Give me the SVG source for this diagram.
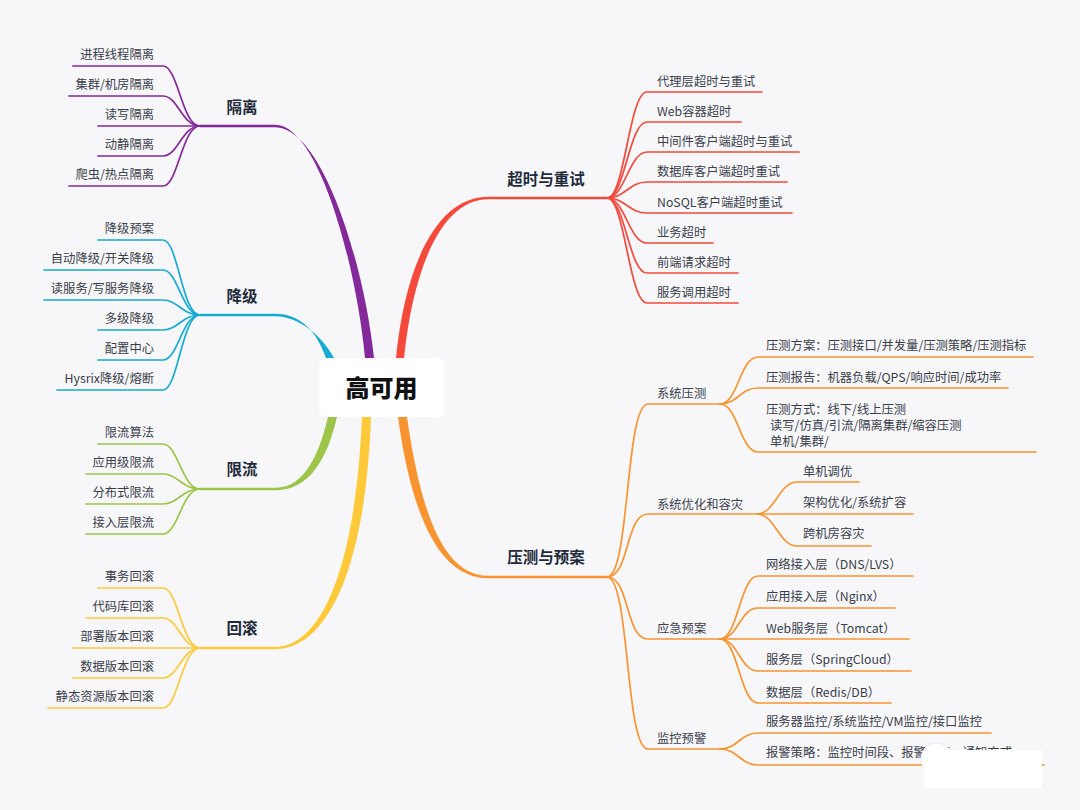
<svg xmlns="http://www.w3.org/2000/svg" width="1080" height="810" viewBox="0 0 1080 810">
<style>
.leaf{font-family:"Noto Sans CJK SC","Noto Sans",sans-serif;font-size:12.3px;fill:#3a3e4a}
.title{font-family:"Noto Sans CJK SC","Noto Sans",sans-serif;font-size:15.5px;font-weight:700;fill:#1e2a3a}
.end{text-anchor:end}
.mid{text-anchor:middle}
.ln{fill:none;stroke-width:1.7;stroke-linecap:round}
.hz{fill:none;stroke-width:2.5}
.p{stroke:#84299a}.c{stroke:#17abd3}.g{stroke:#9cc54a}.y{stroke:#ffc93a}.r{stroke:#f4493b}.o{stroke:#f8942f}
</style>
<rect width="1080" height="810" fill="#f7f7fa"/>
<g id="connectors">
<!-- main tapered branches -->
<path d="M365,358 C356,262 318,124.8 275,124.8 L275,127.2 C322,127.2 364,262 374,358 Z" fill="#84299a"/>
<path d="M326,358 C317,333 302,313.8 275,313.8 L275,316.2 C298,316.2 322,335 334,358 Z" fill="#17abd3"/>
<path d="M328,417 C316,468 298,487.8 275,487.8 L275,490.2 C302,490.2 324,472 337,417 Z" fill="#9cc54a"/>
<path d="M362,417 C355,578 318,646.8 275,646.8 L275,649.2 C322,649.2 365,582 371,417 Z" fill="#ffc93a"/>
<path d="M396,358 C406,258 440,196.8 488,196.8 L488,199.2 C444,199.2 414,262 404,358 Z" fill="#f4493b"/>
<path d="M398,417 C411,512 438,578.2 488,578.2 L488,575.8 C442,575.8 420,508 407,417 Z" fill="#f8942f"/>
<path class="hz p" d="M275,126 H200"/>
<path class="hz c" d="M275,315 H200"/>
<path class="hz g" d="M275,489 H200"/>
<path class="hz y" d="M275,648 H200"/>
<path class="hz r" d="M488,198 H607"/>
<path class="hz o" d="M488,577 H607"/>
<!-- 隔离 leaves -->
<path class="ln p" d="M73,66 H163 C178,66 182,126 200,126"/>
<path class="ln p" d="M69,96 H163 C178,96 182,126 200,126"/>
<path class="ln p" d="M98,126 H200"/>
<path class="ln p" d="M98,156 H163 C178,156 182,126 200,126"/>
<path class="ln p" d="M69,186 H163 C178,186 182,126 200,126"/>
<!-- 降级 leaves -->
<path class="ln c" d="M98,240 H163 C178,240 182,315 200,315"/>
<path class="ln c" d="M44,270 H163 C178,270 182,315 200,315"/>
<path class="ln c" d="M44,300 H163 C178,300 182,315 200,315"/>
<path class="ln c" d="M98,330 H163 C178,330 182,315 200,315"/>
<path class="ln c" d="M98,360 H163 C178,360 182,315 200,315"/>
<path class="ln c" d="M57,390 H163 C178,390 182,315 200,315"/>
<!-- 限流 leaves -->
<path class="ln g" d="M98,444 H163 C178,444 182,489 200,489"/>
<path class="ln g" d="M86,474 H163 C178,474 182,489 200,489"/>
<path class="ln g" d="M86,504 H163 C178,504 182,489 200,489"/>
<path class="ln g" d="M86,534 H163 C178,534 182,489 200,489"/>
<!-- 回滚 leaves -->
<path class="ln y" d="M98,588 H163 C178,588 182,648 200,648"/>
<path class="ln y" d="M86,618 H163 C178,618 182,648 200,648"/>
<path class="ln y" d="M73,648 H200"/>
<path class="ln y" d="M73,678 H163 C178,678 182,648 200,648"/>
<path class="ln y" d="M48,708 H163 C178,708 182,648 200,648"/>
<!-- 超时与重试 leaves -->
<path class="ln r" d="M607,198 C625,198 629,92 647,92 H762"/>
<path class="ln r" d="M607,198 C625,198 629,122 647,122 H741"/>
<path class="ln r" d="M607,198 C625,198 629,152 647,152 H799"/>
<path class="ln r" d="M607,198 C625,198 629,182 647,182 H787"/>
<path class="ln r" d="M607,198 C625,198 629,213 647,213 H792"/>
<path class="ln r" d="M607,198 C625,198 629,243 647,243 H713"/>
<path class="ln r" d="M607,198 C625,198 629,273 647,273 H738"/>
<path class="ln r" d="M607,198 C625,198 629,303 647,303 H738"/>
<!-- 压测与预案 sub-branches -->
<path class="ln o" d="M607,577 C630,577 625,404 648,404 H720"/>
<path class="ln o" d="M607,577 C630,577 625,514 648,514 H757"/>
<path class="ln o" d="M607,577 C630,577 625,639 648,639 H720"/>
<path class="ln o" d="M607,577 C630,577 625,749 648,749 H720"/>
<!-- 系统压测 leaves -->
<path class="ln o" d="M720,404 C738,404 740,357 758,357 H1033"/>
<path class="ln o" d="M720,404 C738,404 740,388 758,388 H1008"/>
<path class="ln o" d="M720,404 C738,404 740,452 758,452 H1036"/>
<!-- 系统优化和容灾 leaves -->
<path class="ln o" d="M757,514 C775,514 779,482 797,482 H859"/>
<path class="ln o" d="M757,514 H913"/>
<path class="ln o" d="M757,514 C775,514 779,546 797,546 H871"/>
<!-- 应急预案 leaves -->
<path class="ln o" d="M720,639 C738,639 740,576 758,576 H913"/>
<path class="ln o" d="M720,639 C738,639 740,608 758,608 H895"/>
<path class="ln o" d="M720,639 H909"/>
<path class="ln o" d="M720,639 C738,639 740,671 758,671 H911"/>
<path class="ln o" d="M720,639 C738,639 740,703 758,703 H891"/>
<!-- 监控预警 leaves -->
<path class="ln o" d="M720,749 C738,749 740,733 758,733 H991"/>
<path class="ln o" d="M720,749 C738,749 740,765 758,765 H1044"/>
</g>
<g id="root">
<rect x="319" y="358" width="125" height="59" rx="7" fill="#ffffff"/>
<text x="381.5" y="397" class="mid" style="font-family:'Noto Sans CJK SC',sans-serif;font-size:24px;font-weight:900;fill:#111">高可用</text>
</g>
<g id="geli">
<text x="242" y="113" class="title mid">隔离</text>
<text x="154" y="59" class="leaf end">进程线程隔离</text>
<text x="154" y="89" class="leaf end">集群/机房隔离</text>
<text x="154" y="119" class="leaf end">读写隔离</text>
<text x="154" y="149" class="leaf end">动静隔离</text>
<text x="154" y="179" class="leaf end">爬虫/热点隔离</text>
</g>
<g id="jiangji">
<text x="242" y="302" class="title mid">降级</text>
<text x="154" y="233" class="leaf end">降级预案</text>
<text x="154" y="263" class="leaf end">自动降级/开关降级</text>
<text x="154" y="293" class="leaf end">读服务/写服务降级</text>
<text x="154" y="323" class="leaf end">多级降级</text>
<text x="154" y="353" class="leaf end">配置中心</text>
<text x="154" y="383" class="leaf end">Hysrix降级/熔断</text>
</g>
<g id="xianliu">
<text x="242" y="475" class="title mid">限流</text>
<text x="154" y="437" class="leaf end">限流算法</text>
<text x="154" y="467" class="leaf end">应用级限流</text>
<text x="154" y="497" class="leaf end">分布式限流</text>
<text x="154" y="527" class="leaf end">接入层限流</text>
</g>
<g id="huigun">
<text x="242" y="634" class="title mid">回滚</text>
<text x="154" y="581" class="leaf end">事务回滚</text>
<text x="154" y="611" class="leaf end">代码库回滚</text>
<text x="154" y="641" class="leaf end">部署版本回滚</text>
<text x="154" y="671" class="leaf end">数据版本回滚</text>
<text x="154" y="701" class="leaf end">静态资源版本回滚</text>
</g>
<g id="chaoshi">
<text x="546" y="185" class="title mid">超时与重试</text>
<text x="657" y="86" class="leaf">代理层超时与重试</text>
<text x="657" y="116" class="leaf">Web容器超时</text>
<text x="657" y="146" class="leaf">中间件客户端超时与重试</text>
<text x="657" y="176" class="leaf">数据库客户端超时重试</text>
<text x="657" y="207" class="leaf">NoSQL客户端超时重试</text>
<text x="657" y="237" class="leaf">业务超时</text>
<text x="657" y="267" class="leaf">前端请求超时</text>
<text x="657" y="297" class="leaf">服务调用超时</text>
</g>
<g id="yace">
<text x="546" y="563" class="title mid">压测与预案</text>
</g>
<g id="xitongyace">
<text x="657" y="398" class="leaf">系统压测</text>
<text x="766" y="350" class="leaf">压测方案：压测接口/并发量/压测策略/压测指标</text>
<text x="766" y="382" class="leaf">压测报告：机器负载/QPS/响应时间/成功率</text>
<text x="766" y="414" class="leaf">压测方式：线下/线上压测</text>
<text x="770" y="430" class="leaf">读写/仿真/引流/隔离集群/缩容压测</text>
<text x="770" y="446" class="leaf">单机/集群/</text>
</g>
<g id="youhua">
<text x="657" y="509" class="leaf">系统优化和容灾</text>
<text x="803" y="476" class="leaf">单机调优</text>
<text x="803" y="507" class="leaf">架构优化/系统扩容</text>
<text x="803" y="538" class="leaf">跨机房容灾</text>
</g>
<g id="yingji">
<text x="657" y="633" class="leaf">应急预案</text>
<text x="766" y="569" class="leaf">网络接入层（DNS/LVS）</text>
<text x="766" y="601" class="leaf">应用接入层（Nginx）</text>
<text x="766" y="633" class="leaf">Web服务层（Tomcat）</text>
<text x="766" y="664" class="leaf">服务层（SpringCloud）</text>
<text x="766" y="697" class="leaf">数据层（Redis/DB）</text>
</g>
<g id="jiankong">
<text x="657" y="743" class="leaf">监控预警</text>
<text x="766" y="726" class="leaf">服务器监控/系统监控/VM监控/接口监控</text>
<text x="766" y="757" class="leaf">报警策略：监控时间段、报警阈值、通知方式</text>
</g>
<g id="cover">
<circle cx="937" cy="759" r="16" fill="#ffffff" stroke="#ececf0" stroke-width="1"/>
<rect x="924" y="750" width="118" height="38" fill="#ffffff"/>
</g>
</svg>
